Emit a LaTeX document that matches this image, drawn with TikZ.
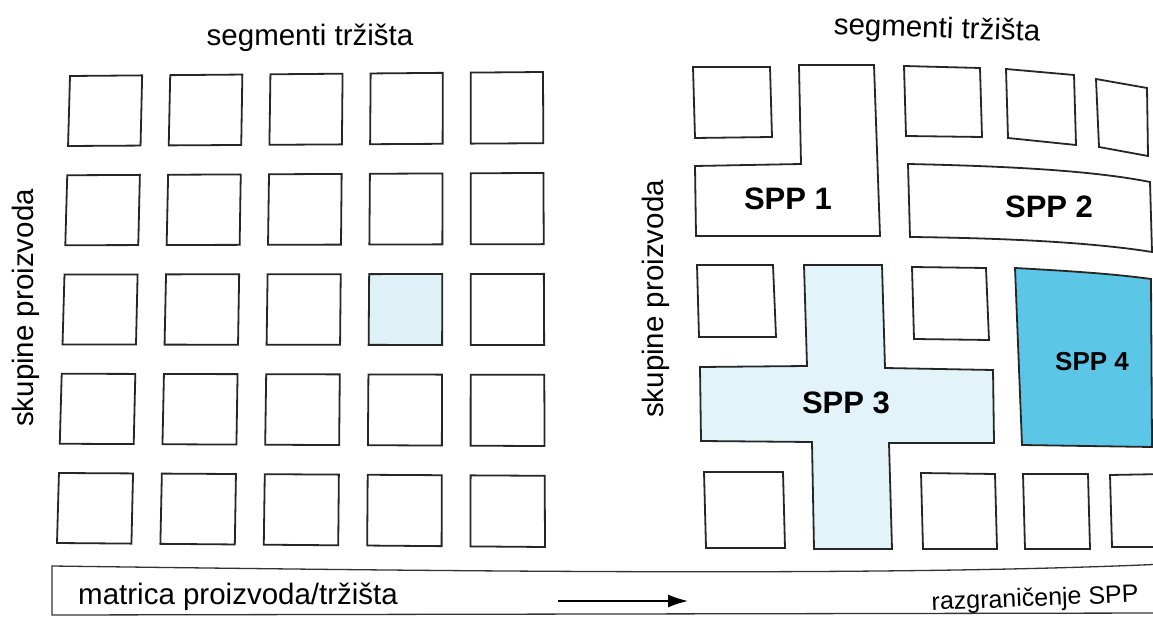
\documentclass[tikz,border=0pt]{standalone}
\usepackage{fontspec}
\setmainfont{Liberation Sans}
\usetikzlibrary{calc,arrows.meta}
\definecolor{palecyan}{HTML}{DDF1F7}
\definecolor{spp3fill}{HTML}{E2F4F9}
\definecolor{spp4fill}{HTML}{5CC6E6}
\tikzset{
  cell/.style={draw=black!85, line width=1.8pt, line join=miter},
  lbl/.style={inner sep=0pt, font=\fontsize{29.5}{31}\selectfont},
  spplbl/.style={inner sep=0pt, font=\fontsize{31}{33}\selectfont\bfseries},
  band/.style={draw=black!80, line width=1.3pt},
  arr/.style={draw=black, line width=1.6pt, -{Latex[length=20pt,width=13pt]}}
}
\begin{document}
\begin{tikzpicture}[x=1pt,y=-1pt]
\useasboundingbox (0,0) rectangle (1153,617);
\fill[white] (0,0) rectangle (1153,617);
\clip (0,0) rectangle (1153,617);

% ---------- left panel: 5x5 grid (slightly keystoned) ----------
\coordinate (TL) at (70,76);
\coordinate (TR) at (543,72);
\coordinate (BL) at (57,543);
\coordinate (BR) at (545,547);
\foreach \i in {0,...,4}{
  \foreach \j in {0,...,4}{
    \pgfmathsetmacro\ua{\i*100/472}
    \pgfmathsetmacro\ub{(\i*100+72)/472}
    \pgfmathsetmacro\va{\j*99.25/467}
    \pgfmathsetmacro\vb{(\j*99.25+70)/467}
    \coordinate (Ta) at ($(TL)!\ua!(TR)$);
    \coordinate (Tb) at ($(TL)!\ub!(TR)$);
    \coordinate (Ba) at ($(BL)!\ua!(BR)$);
    \coordinate (Bb) at ($(BL)!\ub!(BR)$);
    \coordinate (c1) at ($(Ta)!\va!(Ba)$);
    \coordinate (c2) at ($(Tb)!\va!(Bb)$);
    \coordinate (c3) at ($(Tb)!\vb!(Bb)$);
    \coordinate (c4) at ($(Ta)!\vb!(Ba)$);
    \pgfmathtruncatemacro\isfill{(\i==3)&&(\j==2)}
    \ifnum\isfill=1
      \filldraw[cell, fill=palecyan] (c1) -- (c2) -- (c3) -- (c4) -- cycle;
    \else
      \draw[cell] (c1) -- (c2) -- (c3) -- (c4) -- cycle;
    \fi
  }
}
\node[lbl] (segL) at (310,38) {segmenti tržišta};
\node[lbl, rotate=90] (skupL) at (26,308) {skupine proizvoda};

% ---------- right panel ----------
\node[lbl, rotate=-2] (segR) at (937,30) {segmenti tržišta};
\node[lbl, rotate=90] (skupR) at (656,299) {skupine proizvoda};

% row 1
\draw[cell] (693,67) -- (770,67) -- (772,137) -- (695,138) -- cycle;
\draw[cell] (799,65) -- (874,65) -- (880,236) -- (696,236) -- (695,166) -- (801,164) -- cycle;
\draw[cell] (904,66) -- (980,68) -- (982,137) -- (906,136) -- cycle;
\draw[cell] (1006,69) -- (1074,75) -- (1076,145) -- (1008,138) -- cycle;
\draw[cell] (1096,79) -- (1147,88) -- (1148,156) -- (1099,147) -- cycle;
% SPP 2
\draw[cell] (908,164) .. controls (1000,166) and (1090,170) .. (1150,182)
  -- (1152,252) .. controls (1090,242) and (1000,238) .. (910,237) -- cycle;
% row 3
\draw[cell] (697,265) -- (773,265) -- (776,337) -- (699,337) -- cycle;
\draw[cell] (912,267) -- (986,268) -- (989,340) -- (914,339) -- cycle;
% SPP 3 cross
\filldraw[cell, fill=spp3fill] (804,265) -- (882,265) -- (885,368) -- (993,370) -- (994,443)
  -- (889,443) -- (892,549) -- (814,549) -- (812,442) -- (701,441) -- (700,367) -- (807,366) -- cycle;
% SPP 4
\filldraw[cell, fill=spp4fill] (1015,268) .. controls (1070,271) and (1115,274) .. (1151,279)
  -- (1152,447) -- (1022,445) -- cycle;
% row 5
\draw[cell] (704,472) -- (783,472) -- (785,548) -- (706,548) -- cycle;
\draw[cell] (921,473) -- (995,474) -- (997,549) -- (923,549) -- cycle;
\draw[cell] (1023,474) -- (1088,474) -- (1090,549) -- (1025,549) -- cycle;
\draw[cell] (1110,475) -- (1165,474) -- (1165,547) -- (1112,547) -- cycle;

\node[spplbl] (spp1) at (788,199) {SPP 1};
\node[spplbl] (spp2) at (1049,207) {SPP 2};
\node[spplbl] (spp3) at (846,403) {SPP 3};
\node[spplbl, font=\fontsize{26}{28}\selectfont\bfseries] (spp4) at (1092,362) {SPP 4};

% ---------- bottom band ----------
\draw[band] (1165,564) .. controls (900,576) and (500,572) .. (52,566) -- (52,615) -- (1165,613);
\node[lbl, anchor=base west] (matrica) at (78,604) {matrica proizvoda/tržišta};
\node[lbl, anchor=base east, rotate=2.3, font=\fontsize{25}{27}\selectfont] (razg) at (1139,602) {razgraničenje SPP};
\coordinate (a1) at (558,601);
\coordinate (a2) at (688,601);
\draw[arr] (a1) -- (a2);
\end{tikzpicture}
\end{document}
